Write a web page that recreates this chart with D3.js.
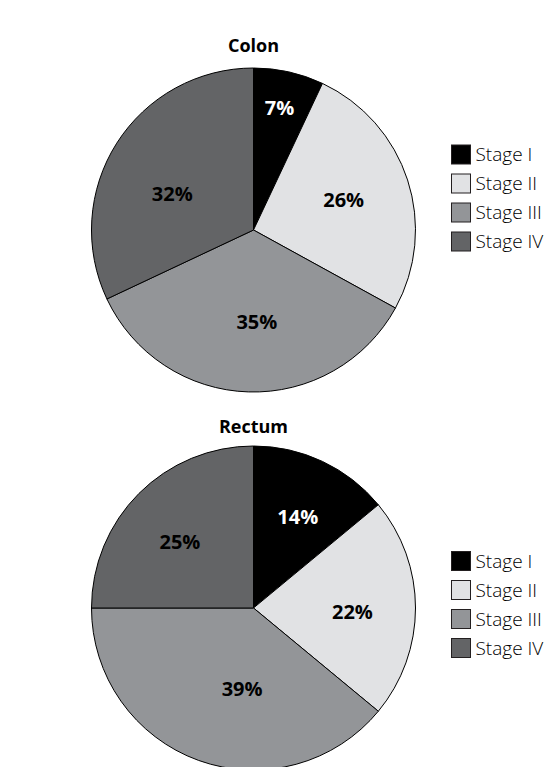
<!DOCTYPE html>
<html>
<head>
<meta charset="utf-8">
<script src="https://cdn.jsdelivr.net/npm/d3@7"></script>
<style>
  html, body { margin: 0; padding: 0; background: #fff; }
  svg { display: block; }
</style>
</head>
<body>
<svg id="chart" width="548" height="767"></svg>
<script>
// ---- data ----
const stages = ["Stage I", "Stage II", "Stage III", "Stage IV"];
const colonValues = [7, 26, 35, 32];
const rectumValues = [14, 22, 39, 25];
const chartTitles = ["Colon", "Rectum"];
const stageColors = ["#000000", "#e1e2e4", "#939598", "#636466"];
const labelColors = ["#ffffff", "#000000", "#000000", "#000000"];

// ---- layout (label placement: radius and angular nudge per slice) ----
const R = 162;
const panels = [
  { title: chartTitles[0], values: colonValues, cx: 253.5, cy: 230, titleY: 46, legendY: 154.5,
    labelR: [125, 95, 92, 89], labelNudge: [-0.6, -0.4, -3.9, -8.4] },
  { title: chartTitles[1], values: rectumValues, cx: 253.5, cy: 608, titleY: 427, legendY: 561,
    labelR: [101, 99, 82, 99], labelNudge: [0.8, 2, -11.8, -3] }
];

const svg = d3.select("#chart");
const color = d3.scaleOrdinal().domain(stages).range(stageColors);
const labelColor = d3.scaleOrdinal().domain(stages).range(labelColors);

const pie = d3.pie().sort(null).value(d => d.value);
const arc = d3.arc().innerRadius(0).outerRadius(R);

panels.forEach(p => {
  const data = stages.map((s, i) => ({ stage: s, value: p.values[i] }));
  const arcs = pie(data);
  const g = svg.append("g").attr("transform", `translate(${p.cx},${p.cy})`);

  g.selectAll("path.slice")
    .data(arcs)
    .join("path")
    .attr("class", "slice")
    .attr("d", arc)
    .attr("fill", d => color(d.data.stage))
    .attr("stroke", "#000")
    .attr("stroke-width", 1);

  g.selectAll("text.lbl")
    .data(arcs)
    .join("text")
    .attr("class", "lbl")
    .attr("transform", (d, i) => {
      const lr = p.labelR[i];
      const mid = (d.startAngle + d.endAngle) / 2 + p.labelNudge[i] * Math.PI / 180;
      const c = d3.arc().innerRadius(lr).outerRadius(lr).centroid({ startAngle: mid, endAngle: mid });
      return `translate(${c[0]},${c[1]})`;
    })
    .attr("text-anchor", "middle")
    .attr("dy", "0.36em")
    .attr("font-family", "'Open Sans', sans-serif")
    .attr("font-weight", 700)
    .attr("font-size", 20)
    .attr("fill", d => labelColor(d.data.stage))
    .text(d => d.data.value + "%");

  svg.append("text")
    .attr("x", p.cx)
    .attr("y", p.titleY)
    .attr("dy", "0.36em")
    .attr("text-anchor", "middle")
    .attr("font-family", "'Open Sans', sans-serif")
    .attr("font-weight", 700)
    .attr("font-size", 18)
    .attr("fill", "#000")
    .text(p.title);

  const y = d3.scalePoint().domain(stages).range([p.legendY, p.legendY + 87]);
  const rows = svg.append("g").selectAll("g.row").data(stages).join("g")
    .attr("class", "row")
    .attr("transform", d => `translate(451.5,${y(d)})`);
  rows.append("rect")
    .attr("x", 0).attr("y", -9.5)
    .attr("width", 19).attr("height", 19)
    .attr("fill", d => color(d))
    .attr("stroke", "#231f20")
    .attr("stroke-width", 1);
  rows.append("text")
    .attr("x", 24)
    .attr("y", 0)
    .attr("dy", "0.36em")
    .attr("font-family", "'Open Sans', sans-serif")
    .attr("font-weight", 300)
    .attr("font-size", 19)
    .attr("fill", "#000")
    .text(d => d);
});
</script>
</body>
</html>
